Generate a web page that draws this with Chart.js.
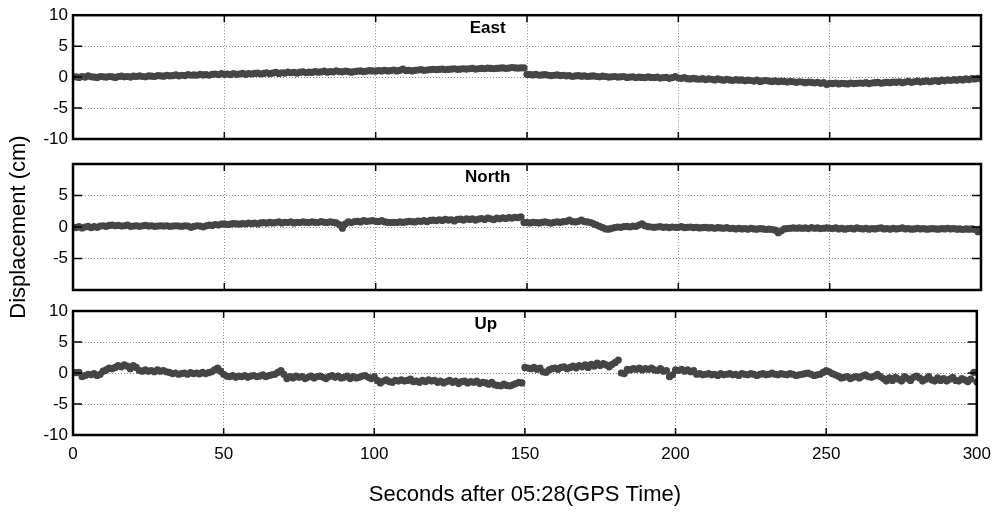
<!DOCTYPE html>
<html lang="en">
<head>
  <meta charset="UTF-8" />
  <title>GPS displacement</title>
  <script src="https://cdn.jsdelivr.net/npm/chart.js"></script>
  <style>
    html, body { margin: 0; padding: 0; background: #fff; }
    #wrap { position: relative; width: 1000px; height: 514px; }
    #wrap canvas { position: absolute; left: 0; top: 0; }
  </style>
</head>
<body>
  <div id="wrap">
    <canvas id="east" width="1000" height="514"></canvas>
    <canvas id="north" width="1000" height="514"></canvas>
    <canvas id="up" width="1000" height="514"></canvas>
  </div>

  <script>
    // tick labels
    const xTicks = [0, 50, 100, 150, 200, 250, 300];
    const eastTicks = [-10, -5, 0, 5, 10];
    const northTicks = [-5, 0, 5];
    const upTicks = [-10, -5, 0, 5, 10];

    // displacement (cm), one epoch per second, 0..300 s
    const east = [
      0.0, 0.05, -0.05, 0.1, 0.0, 0.2, 0.05, 0.0, -0.05, 0.1,
      0.05, 0.0, 0.1, 0.05, -0.05, 0.1, 0.15, 0.05, 0.1, 0.0,
      0.15, 0.1, 0.2, 0.1, 0.05, 0.2, 0.15, 0.1, 0.25, 0.2,
      0.15, 0.3, 0.2, 0.25, 0.35, 0.2, 0.3, 0.25, 0.4, 0.3,
      0.35, 0.3, 0.45, 0.35, 0.4, 0.3, 0.45, 0.5, 0.4, 0.55,
      0.45, 0.5, 0.4, 0.55, 0.45, 0.5, 0.6, 0.45, 0.55, 0.5,
      0.6, 0.65, 0.5, 0.6, 0.7, 0.55, 0.65, 0.75, 0.6, 0.7,
      0.65, 0.8, 0.7, 0.75, 0.65, 0.8, 0.85, 0.7, 0.8, 0.75,
      0.9, 0.8, 0.85, 0.95, 0.8, 0.9, 0.85, 1.0, 0.9, 0.85,
      0.95, 0.9, 0.8, 0.9, 0.95, 1.0, 0.9, 0.95, 1.05, 1.0,
      0.95, 1.05, 1.0, 1.1, 1.0, 1.05, 1.15, 1.0, 1.1, 1.3,
      1.05, 1.1, 1.0, 1.1, 1.15, 1.2, 1.1, 1.15, 1.2, 1.25,
      1.2, 1.25, 1.3, 1.2, 1.25, 1.3, 1.35, 1.25, 1.3, 1.35,
      1.3, 1.35, 1.4, 1.3, 1.35, 1.4, 1.35, 1.45, 1.4, 1.35,
      1.4, 1.45, 1.5, 1.4, 1.45, 1.55, 1.5, 1.45, 1.5, 1.5,
      0.45, 0.4, 0.35, 0.45, 0.3, 0.35, 0.4, 0.3, 0.25, 0.3,
      0.35, 0.25, 0.3, 0.2, 0.25, 0.1, 0.2, 0.25, 0.15, 0.2,
      0.1, 0.15, 0.2, 0.1, 0.05, 0.15, 0.1, 0.0, 0.05, 0.1,
      0.0, 0.05, 0.1, -0.05, 0.0, 0.05, -0.1, 0.0, -0.05, -0.1,
      0.05, -0.05, -0.1, 0.0, -0.15, -0.1, -0.05, -0.2, -0.1, 0.1,
      -0.15, -0.2, -0.1, -0.25, -0.3, -0.2, -0.3, -0.35, -0.25, -0.4,
      -0.3, -0.35, -0.45, -0.3, -0.4, -0.5, -0.35, -0.45, -0.55, -0.4,
      -0.5, -0.45, -0.6, -0.5, -0.55, -0.65, -0.5, -0.7, -0.6, -0.55,
      -0.65, -0.7, -0.6, -0.75, -0.65, -0.7, -0.8, -0.7, -0.75, -0.85,
      -0.75, -0.8, -0.9, -0.8, -0.85, -0.95, -0.85, -1.0, -0.9, -1.2,
      -1.0, -1.05, -0.95, -1.1, -1.0, -1.05, -1.1, -0.95, -1.05, -1.0,
      -0.95, -1.0, -0.9, -1.05, -0.95, -0.9, -0.85, -1.0, -0.9, -0.85,
      -0.9, -0.8, -0.85, -0.75, -0.9, -0.8, -0.7, -0.85, -0.75, -0.65,
      -0.8, -0.7, -0.6, -0.75, -0.65, -0.55, -0.7, -0.5, -0.6, -0.45,
      -0.55, -0.4, -0.5, -0.35, -0.45, -0.3, -0.4, -0.25, -0.3, -0.2,
      -0.25
    ];

    const north = [
      0.0, -0.1, 0.05, -0.15, 0.0, 0.1, -0.1, 0.05, -0.05, 0.15,
      0.2, 0.1, 0.25, 0.3, 0.2, 0.25, 0.15, 0.2, 0.3, 0.1,
      0.15, 0.2, 0.1, 0.2, 0.25, 0.15, 0.2, 0.1, 0.15, 0.2,
      0.15, 0.2, 0.1, 0.15, 0.2, 0.15, 0.1, 0.2, 0.15, -0.05,
      0.1, 0.2, 0.15, 0.0, 0.2, 0.3, 0.25, 0.4, 0.3, 0.45,
      0.5, 0.4, 0.45, 0.55, 0.5, 0.45, 0.55, 0.5, 0.6, 0.55,
      0.6, 0.5, 0.65, 0.7, 0.6, 0.75, 0.65, 0.7, 0.8, 0.65,
      0.75, 0.7, 0.8, 0.65, 0.75, 0.7, 0.8, 0.75, 0.7, 0.8,
      0.75, 0.7, 0.85, 0.75, 0.7, 0.8, 0.75, 0.65, 0.4, -0.2,
      0.5, 0.8, 0.7, 0.85, 0.9, 0.8, 1.0, 0.9, 0.95, 1.0,
      0.9, 0.85, 1.0, 0.8, 0.75, 0.7, 0.75, 0.7, 0.8, 0.75,
      0.8, 0.9, 0.85, 0.8, 0.95, 0.9, 1.0, 0.85, 1.05, 1.1,
      1.0, 1.15, 1.05, 1.2, 1.1, 1.15, 0.95, 1.2, 1.25, 1.1,
      1.3, 1.2, 1.3, 1.1, 1.25, 1.35, 1.2, 1.4, 1.3, 1.15,
      1.4, 1.3, 1.45, 1.35, 1.5, 1.4, 1.55, 1.5, 1.6, 0.7,
      0.7, 0.65, 0.75, 0.7, 0.65, 0.75, 0.8, 0.7, 0.6, 0.75,
      0.8, 0.75, 0.85, 0.9, 1.1, 0.85, 0.8, 0.9, 1.1, 0.85,
      0.8, 0.7, 0.5, 0.3, 0.1, -0.1, -0.3, -0.35, -0.2, -0.1,
      0.0, -0.05, 0.05, 0.1, 0.0, 0.15, 0.1, 0.3, 0.5, 0.2,
      0.05, 0.0, -0.05, 0.0, 0.05, -0.05, 0.0, -0.1, 0.0, -0.05,
      -0.05, 0.05, -0.1, -0.05, 0.0, -0.1, -0.05, -0.15, -0.1, -0.05,
      -0.15, -0.1, -0.2, -0.1, -0.15, -0.2, -0.1, -0.25, -0.2, -0.3,
      -0.2, -0.3, -0.25, -0.35, -0.2, -0.3, -0.35, -0.25, -0.3, -0.4,
      -0.35, -0.4, -0.5, -0.9, -0.6, -0.3, -0.25, -0.2, -0.15, -0.2,
      -0.15, -0.2, -0.15, -0.25, -0.1, -0.2, -0.15, -0.25, -0.2, -0.15,
      -0.2, -0.25, -0.15, -0.3, -0.2, -0.35, -0.25, -0.2, -0.3, -0.15,
      -0.25, -0.3, -0.2, -0.35, -0.25, -0.3, -0.2, -0.15, -0.3, -0.25,
      -0.35, -0.2, -0.3, -0.25, -0.15, -0.3, -0.25, -0.35, -0.3, -0.2,
      -0.3, -0.25, -0.35, -0.3, -0.25, -0.3, -0.35, -0.25, -0.3, -0.2,
      -0.3, -0.25, -0.35, -0.3, -0.4, -0.3, -0.35, -0.3, -0.4, -0.75,
      -0.3
    ];

    const up = [
      0.1, 0.05, 0.1, -0.6, -0.4, -0.2, -0.3, -0.1, -0.4, -0.2,
      0.3, 0.5, 0.8, 0.7, 0.9, 1.2, 1.0, 1.3, 1.1, 0.7,
      1.2, 0.9, 0.4, 0.3, 0.5, 0.3, 0.4, 0.2, 0.5, 0.3,
      0.4, 0.2, 0.1, -0.1, 0.0, -0.2, -0.1, 0.0, -0.2, 0.05,
      -0.1, 0.0, -0.15, 0.1, -0.1, 0.05, 0.2, 0.5, 0.8, 0.3,
      -0.2, -0.5, -0.6, -0.4, -0.7, -0.5, -0.6, -0.4, -0.7, -0.5,
      -0.4, -0.6, -0.5, -0.3, -0.6, -0.4, -0.3, -0.2, 0.1, 0.4,
      -0.2, -0.9, -0.6, -0.8, -0.5, -0.7, -0.6, -0.9, -0.7, -0.5,
      -0.8, -0.6, -0.5, -0.7, -0.9, -0.6, -0.4, -0.7, -0.5, -0.8,
      -0.7, -0.5, -0.9, -0.6, -0.8, -0.7, -0.5, -0.4, -0.7, -0.9,
      -0.6, -1.2, -1.6, -1.3, -1.1, -1.4, -1.5, -1.2, -1.3, -1.1,
      -1.3, -1.2, -1.0, -1.4, -1.3, -1.5, -1.2, -1.4, -1.1, -1.3,
      -1.2, -1.5, -1.3, -1.6, -1.4, -1.2, -1.5, -1.3, -1.7, -1.4,
      -1.3, -1.6, -1.4, -1.5, -1.3, -1.7, -1.5, -1.6, -1.8, -1.5,
      -1.9, -2.0, -2.1, -1.8, -2.0, -2.1, -1.9, -1.7, -1.5, -1.6,
      0.9, 0.8, 0.7, 0.9, 0.6, 0.8, 0.2, 0.1, 0.5, 0.7,
      0.8, 0.6, 0.9, 1.0, 0.7, 0.9, 1.1, 0.8, 1.2, 1.0,
      1.3, 0.9, 1.4, 1.1, 1.6, 1.2, 1.5, 1.3, 1.0, 1.4,
      1.7, 2.1, 0.0, -0.1, 0.6, 0.5, 0.7, 0.6, 0.8, 0.5,
      0.7, 0.6, 0.8, 0.5, 0.4, 0.7, 0.3, 0.4, -0.6, -0.3,
      0.5, 0.4, 0.6, 0.3, 0.5, 0.2, 0.4, -0.2, -0.1, -0.3,
      -0.2, -0.1, -0.3, -0.2, -0.4, -0.1, -0.3, -0.2, -0.1, -0.3,
      -0.2, -0.4, -0.1, -0.2, -0.3, -0.1, -0.2, -0.4, -0.2, -0.1,
      -0.3, -0.2, 0.0, -0.2, -0.3, -0.1, -0.2, -0.3, -0.1, -0.2,
      -0.4, -0.3, -0.2, -0.1, 0.0, -0.2, -0.4, -0.3, -0.2, 0.1,
      0.4, 0.2, -0.1, -0.3, -0.5, -0.8, -0.7, -0.6, -0.9, -0.7,
      -0.6, -0.8, -0.5, -0.3, -0.6, -0.7, -0.5, -0.2, -0.6, -0.9,
      -1.3, -0.8, -1.2, -0.7, -1.0, -1.3, -0.6, -0.9, -1.2, -0.7,
      -0.5, -0.8, -1.3, -1.0, -0.6, -1.1, -1.3, -0.8, -1.2, -0.9,
      -1.3, -1.0, -0.7, -1.2, -1.3, -0.9, -1.1, -1.4, -1.0, 0.1,
      -1.45
    ];

    const FONT = "'Liberation Sans', Arial, sans-serif";
    const W = 1000, H = 514;

    // matlab-style box: heavy frame plus short inward ticks on all four sides
    const boxPlugin = {
      id: 'box',
      afterDraw(chart) {
        const { ctx, chartArea: a, scales } = chart;
        const len = 7;
        ctx.save();
        ctx.strokeStyle = '#000';
        ctx.lineWidth = 1.5;
        ctx.beginPath();
        scales.x.ticks.forEach(t => {
          const px = scales.x.getPixelForValue(t.value);
          ctx.moveTo(px, a.top); ctx.lineTo(px, a.top + len);
          ctx.moveTo(px, a.bottom); ctx.lineTo(px, a.bottom - len);
        });
        scales.y.ticks.forEach(t => {
          const py = scales.y.getPixelForValue(t.value);
          ctx.moveTo(a.left, py); ctx.lineTo(a.left + len + 2, py);
          ctx.moveTo(a.right, py); ctx.lineTo(a.right - len - 2, py);
        });
        ctx.stroke();
        ctx.lineWidth = 2.5;
        ctx.strokeRect(a.left, a.top, a.right - a.left, a.bottom - a.top);

        // component name inside the top of the box
        const name = chart.options.plugins.box.name;
        ctx.fillStyle = '#000';
        ctx.font = 'bold 17px ' + FONT;
        ctx.textAlign = 'center';
        ctx.textBaseline = 'middle';
        ctx.fillText(name, scales.x.getPixelForValue(137), a.top + 13);
        ctx.restore();
      }
    };

    function makePanel(id, name, values, yTicks, top, bottom, opts) {
      const last = !!opts.last;
      const points = values.map((v, i) => ({ x: i, y: v }));
      return new Chart(document.getElementById(id), {
        type: 'scatter',
        data: {
          datasets: [{
            data: points,
            pointRadius: 3.6,
            pointBorderWidth: 0,
            backgroundColor: '#454545',
            borderColor: '#454545'
          }]
        },
        plugins: [boxPlugin],
        options: {
          responsive: false,
          animation: false,
          events: [],
          layout: {
            padding: { left: 0, right: 19, top: top, bottom: last ? 0 : H - bottom }
          },
          plugins: {
            legend: { display: false },
            tooltip: { enabled: false },
            box: { name: name }
          },
          scales: {
            x: {
              type: 'linear',
              min: 0,
              max: 300,
              afterBuildTicks: s => { s.ticks = xTicks.map(v => ({ value: v })); },
              afterFit: s => { s.height = last ? H - bottom : 0; },
              border: { display: false, dash: [1, 2] },
              grid: { color: '#8a8a8a', lineWidth: 1, drawTicks: false },
              ticks: {
                display: last,
                padding: 9,
                color: '#000',
                font: { family: FONT, size: 17 }
              },
              title: {
                display: last,
                text: 'Seconds after 05:28(GPS Time)',
                color: '#000',
                font: { family: FONT, size: 22 },
                padding: { top: 0, bottom: 6 }
              }
            },
            y: {
              min: -10,
              max: 10,
              afterBuildTicks: s => { s.ticks = yTicks.map(v => ({ value: v })); },
              afterFit: s => { s.width = 73; },
              border: { display: false, dash: [1, 2] },
              grid: { color: '#8a8a8a', lineWidth: 1, drawTicks: false },
              ticks: {
                padding: 5,
                color: '#000',
                font: { family: FONT, size: 17 }
              },
              title: {
                display: !!opts.yTitle,
                text: 'Displacement (cm)',
                color: '#000',
                font: { family: FONT, size: 22 },
                padding: { top: 6, bottom: 0 }
              }
            }
          }
        }
      });
    }

    makePanel('east', 'East', east, eastTicks, 10, 139, {});
    makePanel('north', 'North', north, northTicks, 164, 290, { yTitle: true });
    makePanel('up', 'Up', up, upTicks, 311, 435, { last: true });
  </script>
</body>
</html>
